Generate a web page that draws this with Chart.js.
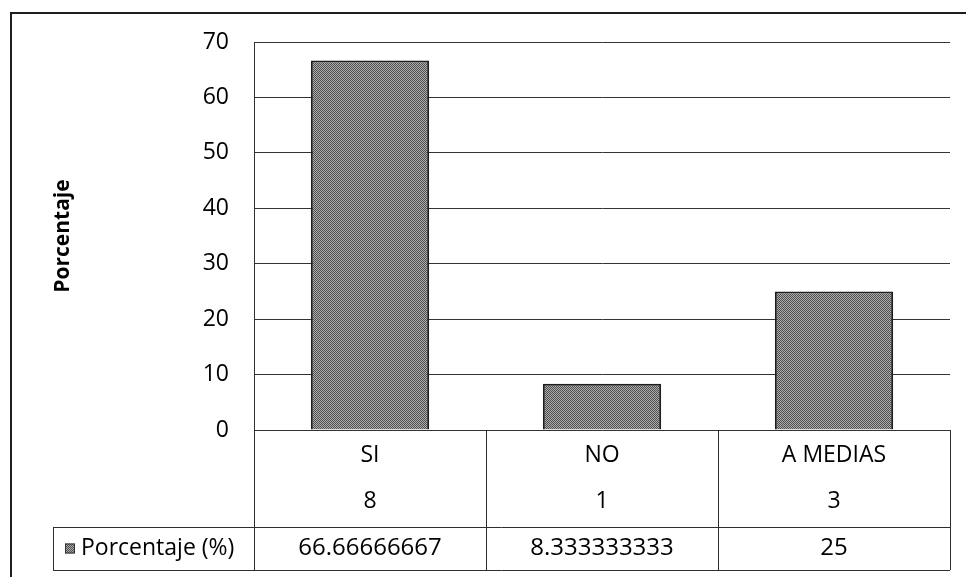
<!DOCTYPE html>
<html>
<head>
<meta charset="utf-8">
<script src="https://cdn.jsdelivr.net/npm/chart.js@4.4.0/dist/chart.umd.min.js"></script>
<style>
  html, body { margin: 0; padding: 0; background: #fff; }
  #wrap { width: 966px; height: 577px; position: relative; }
</style>
</head>
<body>
<div id="wrap"><canvas id="c" width="966" height="577"></canvas></div>
<script>
// Survey answers, number of respondents and share of the total
const categories = ['SI', 'NO', 'A MEDIAS'];
const counts = [8, 1, 3];
const percentages = [66.66666667, 8.333333333, 25];
const percentageLabels = ['66.66666667', '8.333333333', '25'];
const seriesName = 'Porcentaje (%)';
const axisTitle = 'Porcentaje';
const yMin = 0, yMax = 70, yStep = 10;

const FONT = "'Open Sans', 'DejaVu Sans', sans-serif";
const LINE = '#2e2e2e';

// Halftone grey fill for the bars
function makeHalftone() {
  const p = document.createElement('canvas');
  p.width = 4; p.height = 4;
  const g = p.getContext('2d');
  g.fillStyle = '#acacac';
  g.fillRect(0, 0, 4, 4);
  g.fillStyle = '#505050';
  for (let y = 0; y < 4; y++) {
    for (let x = 0; x < 4; x++) {
      if ((x + y) % 2 === 0) g.fillRect(x, y, 1, 1);
    }
  }
  return g.createPattern(p, 'repeat');
}
const halftone = makeHalftone();

// Outer frame of the chart object
const framePlugin = {
  id: 'frame',
  beforeDraw(chart) {
    const ctx = chart.ctx;
    ctx.save();
    ctx.strokeStyle = '#1e1e1e';
    ctx.lineWidth = 2;
    ctx.beginPath();
    ctx.moveTo(11, chart.height);
    ctx.lineTo(11, 13);
    ctx.lineTo(chart.width, 13);
    ctx.stroke();
    ctx.restore();
  }
};

// Data table under the category axis
const tablePlugin = {
  id: 'dataTable',
  afterDraw(chart) {
    const ctx = chart.ctx;
    const x = chart.scales.x;
    const area = chart.chartArea;
    const half = (x.getPixelForValue(1) - x.getPixelForValue(0)) / 2;
    const rowTop = x.bottom;
    const rowBottom = rowTop + 43;
    const legendLeft = 53;
    ctx.save();
    ctx.strokeStyle = LINE;
    ctx.lineWidth = 1;
    ctx.beginPath();
    // column separators
    for (let i = 0; i <= categories.length; i++) {
      const px = Math.round(x.getPixelForValue(Math.min(i, categories.length - 1)) + (i === categories.length ? half : -half)) + 0.5;
      ctx.moveTo(px, area.bottom);
      ctx.lineTo(px, rowBottom);
    }
    // legend cell and row borders
    ctx.moveTo(legendLeft + 0.5, rowTop);
    ctx.lineTo(legendLeft + 0.5, rowBottom);
    ctx.moveTo(legendLeft, rowTop + 0.5);
    ctx.lineTo(area.right, rowTop + 0.5);
    ctx.moveTo(legendLeft, rowBottom + 0.5);
    ctx.lineTo(area.right, rowBottom + 0.5);
    ctx.stroke();

    const midY = (rowTop + rowBottom) / 2;
    // legend key
    ctx.fillStyle = halftone;
    ctx.fillRect(65, midY - 5, 10, 10);
    ctx.strokeStyle = '#333';
    ctx.strokeRect(65.5, midY - 4.5, 9, 9);
    ctx.fillStyle = '#000';
    ctx.font = '23px ' + FONT;
    ctx.textBaseline = 'middle';
    ctx.textAlign = 'left';
    ctx.fillText(seriesName, 81, midY);
    ctx.textAlign = 'center';
    ctx.font = '24px ' + FONT;
    percentageLabels.forEach((t, i) => {
      ctx.fillText(t, x.getPixelForValue(i), midY);
    });
    ctx.restore();
  }
};

new Chart(document.getElementById('c'), {
  type: 'bar',
  data: {
    labels: categories.map((c, i) => [c, String(counts[i])]),
    datasets: [{
      label: seriesName,
      data: percentages,
      backgroundColor: halftone,
      borderColor: '#1e1e1e',
      borderWidth: 2,
      barPercentage: 0.51,
      categoryPercentage: 1
    }]
  },
  options: {
    responsive: false,
    animation: false,
    devicePixelRatio: 1,
    layout: { padding: { left: 10, top: 42, right: 16, bottom: 50 } },
    plugins: {
      legend: { display: false },
      tooltip: { enabled: false }
    },
    scales: {
      x: {
        offset: true,
        grid: { display: false, drawTicks: false },
        border: { display: false },
        ticks: {
          color: '#000',
          padding: 2,
          font: { family: FONT, size: 23, lineHeight: 2.0 }
        },
        afterFit(s) { s.height = 97; }
      },
      y: {
        min: yMin,
        max: yMax,
        grid: { color: '#333', drawTicks: false },
        border: { display: true, color: '#333' },
        ticks: {
          stepSize: yStep,
          color: '#000',
          padding: 25,
          font: { family: FONT, size: 23 }
        },
        title: {
          display: true,
          text: axisTitle,
          color: '#000',
          font: { family: FONT, size: 21, weight: 'bold' },
          padding: { top: 40, bottom: 0 }
        },
        afterFit(s) { s.width = 244; }
      }
    }
  },
  plugins: [framePlugin, tablePlugin]
});
</script>
</body>
</html>
